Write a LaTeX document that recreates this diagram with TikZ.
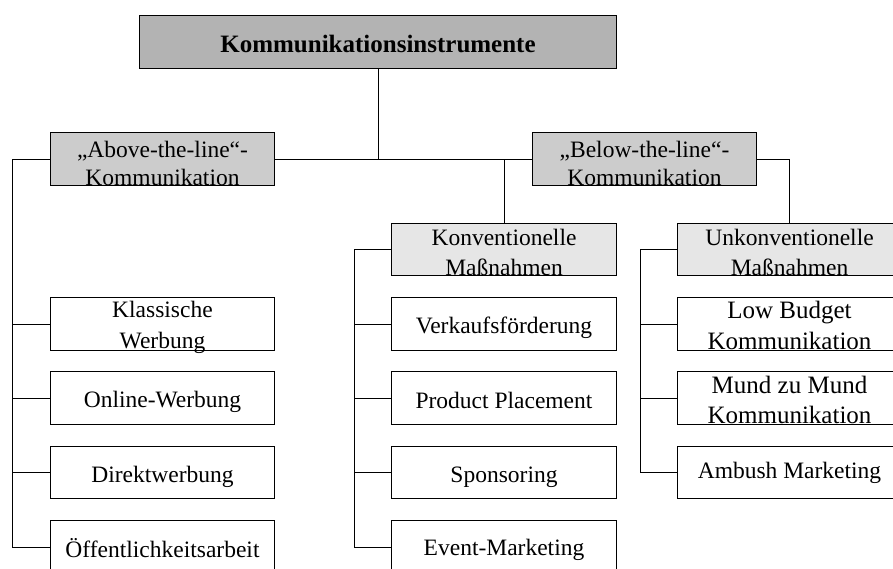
\documentclass[tikz,border=0pt]{standalone}
\usepackage{fontspec}
\setmainfont{Liberation Serif}
\definecolor{fillA}{RGB}{179,179,179}
\definecolor{fillB}{RGB}{204,204,204}
\definecolor{fillC}{RGB}{230,230,230}
% two centred lines; the node's base anchor sits on the first line
\newcommand\twoline[2]{\begin{tabular}[t]{@{}c@{}}#1\\#2\end{tabular}}
\begin{document}
\begin{tikzpicture}[x=1pt,y=-1pt,
  box/.style={draw=black, line width=1pt, minimum width=224pt, minimum height=53pt,
              inner sep=0pt, anchor=north west},
  lbl/.style={inner sep=0pt, anchor=base, font=\fontsize{23.5}{30}\selectfont},
  conn/.style={draw=black, line width=1pt}]
\useasboundingbox (0,0) rectangle (893,568);

% boxes
\node[box, fill=fillA, minimum width=477pt] (top) at (139,15) {};
\node[box, fill=fillB] (abv) at (50,132) {};
\node[box, fill=fillB] (blw) at (532,132) {};
\node[box, fill=fillC, minimum width=225pt, minimum height=52pt] (konv) at (391,223) {};
\node[box, fill=fillC, minimum height=52pt] (unk) at (677,223) {};

\node[box] (kla) at (50,297) {};
\node[box] (onl) at (50,371) {};
\node[box, minimum height=52pt] (dir) at (50,446) {};
\node[box] (oef) at (50,520) {};

\node[box, minimum width=225pt] (vkf) at (391,297) {};
\node[box, minimum width=225pt] (pp) at (391,371) {};
\node[box, minimum width=225pt, minimum height=52pt] (spo) at (391,446) {};
\node[box, minimum width=225pt] (evt) at (391,520) {};

\node[box] (lbk) at (677,297) {};
\node[box] (mzm) at (677,371) {};
\node[box, minimum height=52pt] (amb) at (677,446) {};

% labels
\node[lbl, font=\fontsize{25}{30}\selectfont\bfseries] (top-t) at ([yshift=-37pt]top.north) {Kommunikationsinstrumente};
\node[lbl, font=\fontsize{23.5}{28}\selectfont] (abv-t) at ([yshift=-25pt]abv.north) {\twoline{„Above-the-line“-}{Kommunikation}};
\node[lbl, font=\fontsize{23.5}{28}\selectfont] (blw-t) at ([yshift=-25pt]blw.north) {\twoline{„Below-the-line“-}{Kommunikation}};
\node[lbl] (konv-t) at ([yshift=-22pt]konv.north) {\twoline{Konventionelle}{Maßnahmen}};
\node[lbl] (unk-t) at ([yshift=-22pt]unk.north) {\twoline{Unkonventionelle}{Maßnahmen}};

\node[lbl, font=\fontsize{23.5}{31}\selectfont] (kla-t) at ([yshift=-20pt]kla.north) {\twoline{Klassische}{Werbung}};
\node[lbl] (onl-t) at ([yshift=-36pt]onl.north) {Online-Werbung};
\node[lbl] (dir-t) at ([yshift=-36pt]dir.north) {Direktwerbung};
\node[lbl] (oef-t) at ([yshift=-37pt]oef.north) {Öffentlichkeitsarbeit};

\node[lbl] (vkf-t) at ([yshift=-36pt]vkf.north) {Verkaufsförderung};
\node[lbl] (pp-t) at ([yshift=-37pt]pp.north) {Product Placement};
\node[lbl] (spo-t) at ([yshift=-36pt]spo.north) {Sponsoring};
\node[lbl] (evt-t) at ([yshift=-35pt]evt.north) {Event-Marketing};

\node[lbl, font=\fontsize{25}{31}\selectfont] (lbk-t) at ([yshift=-21pt]lbk.north) {\twoline{Low Budget}{Kommunikation}};
\node[lbl, font=\fontsize{25}{30}\selectfont] (mzm-t) at ([yshift=-22pt]mzm.north) {\twoline{Mund zu Mund}{Kommunikation}};
\node[lbl] (amb-t) at ([yshift=-32pt]amb.north) {Ambush Marketing};

% trunk positions of the three lists
\coordinate (L) at (12,0);
\coordinate (M) at (354,0);
\coordinate (R) at (640,0);

% upper tree
\draw[conn] (top.south) -- (top.south |- abv.east);
\draw[conn] (abv.east) -- (blw.west);
\draw[conn] (blw.west) -- (blw.west -| konv.north) -- (konv.north);
\draw[conn] (blw.east) -| (unk.north);

% left list
\draw[conn] (abv.west) -| (L |- oef.west) -- (oef.west);
\foreach \b in {kla,onl,dir} \draw[conn] (L |- \b.west) -- (\b.west);

% middle list
\draw[conn] (konv.west) -| (M |- evt.west) -- (evt.west);
\foreach \b in {vkf,pp,spo} \draw[conn] (M |- \b.west) -- (\b.west);

% right list
\draw[conn] (unk.west) -| (R |- amb.west) -- (amb.west);
\foreach \b in {lbk,mzm} \draw[conn] (R |- \b.west) -- (\b.west);
\end{tikzpicture}
\end{document}
